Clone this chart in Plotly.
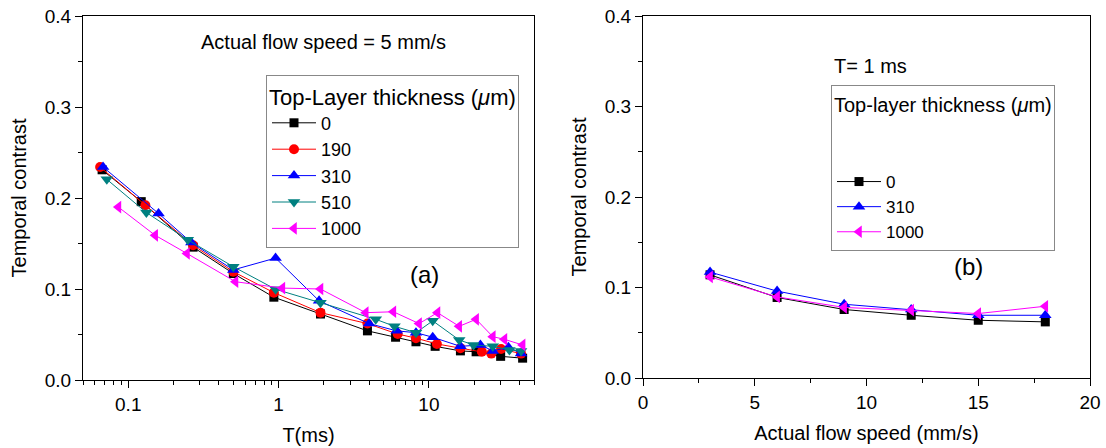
import plotly.graph_objects as go

# ---------------- Panel (a) data: T (ms) vs temporal contrast ----------------
t_0 = [0.067, 0.122, 0.27, 0.50, 0.93, 1.90, 3.90, 6.0, 8.2, 11.0, 16.2, 20.6, 30.0, 42.0]
c_0 = [0.231, 0.196, 0.146, 0.117, 0.091, 0.0725, 0.054, 0.047, 0.042, 0.037, 0.032, 0.031, 0.026, 0.024]

t_190 = [0.065, 0.13, 0.27, 0.50, 0.93, 1.90, 3.90, 6.2, 8.2, 11.3, 16.2, 22.5, 26.0, 30.2, 41.0]
c_190 = [0.234, 0.192, 0.148, 0.119, 0.096, 0.074, 0.062, 0.0505, 0.046, 0.0396, 0.035, 0.031, 0.029, 0.034, 0.029]

t_310 = [0.068, 0.159, 0.263, 0.50, 0.955, 1.86, 4.0, 6.1, 8.2, 10.6, 16.2, 22.0, 26.6, 33.8, 41.0]
c_310 = [0.234, 0.183, 0.151, 0.121, 0.134, 0.087, 0.062, 0.054, 0.052, 0.047, 0.037, 0.0385, 0.032, 0.036, 0.029]

t_510 = [0.072, 0.132, 0.249, 0.50, 0.955, 1.9, 4.43, 5.9, 8.2, 10.6, 15.9, 19.8, 26.6, 34.3, 41.0]
c_510 = [0.2205, 0.184, 0.154, 0.1245, 0.0997, 0.085, 0.0667, 0.059, 0.052, 0.065, 0.044, 0.0385, 0.037, 0.033, 0.032]

t_1000 = [0.086, 0.151, 0.246, 0.517, 1.06, 1.9, 3.8, 5.8, 8.6, 11.4, 15.9, 20.6, 26.6, 31.8, 42.0]
c_1000 = [0.190, 0.159, 0.139, 0.108, 0.101, 0.100, 0.074, 0.075, 0.062, 0.074, 0.059, 0.0667, 0.0476, 0.0447, 0.0385]

# ---------------- Panel (b) data: flow speed (mm/s) vs temporal contrast ----------------
speed = [3, 6, 9, 12, 15, 18]
b_0 = [0.114, 0.089, 0.0757, 0.0693, 0.0638, 0.062]
b_310 = [0.117, 0.096, 0.0815, 0.0757, 0.0693, 0.0693]
b_1000 = [0.1117, 0.0896, 0.078, 0.075, 0.0712, 0.0793]

# tick labels
a_xticks = [0.1, 1, 10]
a_xtext = ["0.1", "1", "10"]
a_xminor = [0.05, 0.06, 0.07, 0.08, 0.09, 0.2, 0.3, 0.4, 0.5, 0.6, 0.7, 0.8, 0.9,
            2, 3, 4, 5, 6, 7, 8, 9, 20, 30, 40, 50]
y_ticks = [0.0, 0.1, 0.2, 0.3, 0.4]
y_text = ["0.0", "0.1", "0.2", "0.3", "0.4"]

FONT = "Liberation Sans, Arial, sans-serif"

styles = {
    "0": dict(color="#000000", symbol="square", size=9),
    "190": dict(color="#ff0000", symbol="circle", size=10),
    "310": dict(color="#0000ff", symbol="triangle-up", size=11),
    "510": dict(color="#008080", symbol="triangle-down", size=11),
    "1000": dict(color="#ff00ff", symbol="triangle-left", size=11),
}

fig = go.Figure()

for name, tx, cy in [("0", t_0, c_0), ("190", t_190, c_190), ("310", t_310, c_310),
                     ("510", t_510, c_510), ("1000", t_1000, c_1000)]:
    s = styles[name]
    fig.add_trace(go.Scatter(
        x=tx, y=cy, mode="lines+markers", name=name,
        line=dict(color=s["color"], width=1),
        marker=dict(color=s["color"], symbol=s["symbol"], size=s["size"]),
        xaxis="x", yaxis="y", legend="legend"))

for name, cy in [("0", b_0), ("310", b_310), ("1000", b_1000)]:
    s = styles[name]
    fig.add_trace(go.Scatter(
        x=speed, y=cy, mode="lines+markers", name=name,
        line=dict(color=s["color"], width=1),
        marker=dict(color=s["color"], symbol=s["symbol"], size=s["size"]),
        xaxis="x2", yaxis="y2", legend="legend2"))

axis_common = dict(showline=True, linecolor="black", linewidth=1, mirror=True,
                   ticks="outside", ticklen=7, tickwidth=1, tickcolor="black",
                   showgrid=False, zeroline=False, automargin=False,
                   tickfont=dict(family=FONT, size=19, color="black"))

W, H = 1106, 448
fig.update_layout(
    width=W, height=H, autosize=False,
    margin=dict(l=0, r=0, t=0, b=0, pad=0),
    paper_bgcolor="white", plot_bgcolor="white",
    font=dict(family=FONT, color="black"),
    xaxis=dict(type="log", range=[-1.30103, 1.69897], domain=[83 / W, 534 / W],
               tickvals=a_xticks, ticktext=a_xtext,
               minor=dict(tickvals=a_xminor, ticks="outside", ticklen=4, tickcolor="black"),
               title=dict(text="T(ms)", font=dict(family=FONT, size=20), standoff=14),
               anchor="y", **axis_common),
    yaxis=dict(range=[0, 0.4], domain=[1 - 380 / H, 1 - 16 / H],
               tickvals=y_ticks, ticktext=y_text,
               minor=dict(dtick=0.05, ticks="outside", ticklen=4, tickcolor="black"),
               title=dict(text="Temporal contrast", font=dict(family=FONT, size=20), standoff=12),
               anchor="x", **axis_common),
    xaxis2=dict(range=[0, 20], domain=[643 / W, 1090 / W], dtick=5,
                minor=dict(dtick=2.5, ticks="outside", ticklen=4, tickcolor="black"),
                title=dict(text="Actual flow speed (mm/s)", font=dict(family=FONT, size=20), standoff=14),
                anchor="y2", **axis_common),
    yaxis2=dict(range=[0, 0.4], domain=[1 - 378 / H, 1 - 16 / H],
                tickvals=y_ticks, ticktext=y_text,
                minor=dict(dtick=0.05, ticks="outside", ticklen=4, tickcolor="black"),
                title=dict(text="Temporal contrast", font=dict(family=FONT, size=20), standoff=12),
                anchor="x2", **axis_common),
    legend=dict(x=266 / W, y=1 - 75 / H, xanchor="left", yanchor="top",
                bordercolor="#888888", borderwidth=1, bgcolor="white",
                font=dict(family=FONT, size=18), tracegroupgap=0, itemwidth=44,
                title=dict(text="Top-Layer thickness (<i>μ</i>m)", font=dict(family=FONT, size=22))),
    legend2=dict(x=831 / W, y=1 - 85 / H, xanchor="left", yanchor="top",
                 bordercolor="#888888", borderwidth=1, bgcolor="white",
                 font=dict(family=FONT, size=17), tracegroupgap=0, itemwidth=44,
                 title=dict(text="Top-layer thickness (<i>μ</i>m)<br> <br> ",
                            font=dict(family=FONT, size=20))),
    annotations=[
        dict(text="Actual flow speed = 5 mm/s", x=323 / W, y=1 - 42 / H, xref="paper", yref="paper",
             xanchor="center", yanchor="middle", showarrow=False, font=dict(family=FONT, size=20)),
        dict(text="(a)", x=424 / W, y=1 - 274 / H, xref="paper", yref="paper",
             xanchor="center", yanchor="middle", showarrow=False, font=dict(family=FONT, size=24)),
        dict(text="T= 1 ms", x=870 / W, y=1 - 66 / H, xref="paper", yref="paper",
             xanchor="center", yanchor="middle", showarrow=False, font=dict(family=FONT, size=20)),
        dict(text="(b)", x=968 / W, y=1 - 266 / H, xref="paper", yref="paper",
             xanchor="center", yanchor="middle", showarrow=False, font=dict(family=FONT, size=24)),
    ],
)

fig.write_html("out.html", config={"displayModeBar": False},
               post_script="document.body.style.margin='0';document.body.style.overflow='hidden';")
